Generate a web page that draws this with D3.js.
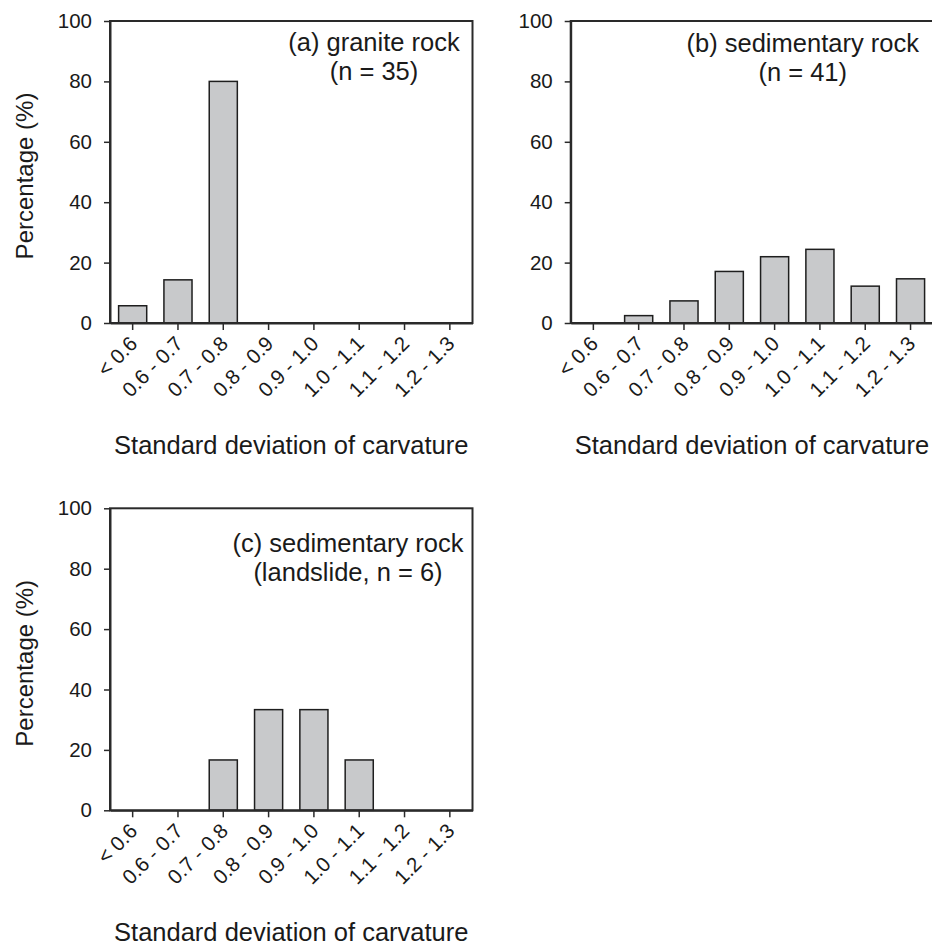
<!DOCTYPE html>
<html>
<head>
<meta charset="utf-8">
<script src="https://cdn.jsdelivr.net/npm/d3@7"></script>
<style>
  html, body { margin: 0; padding: 0; background: #fff; }
  svg { display: block; }
  text { font-family: "Liberation Sans", Arial, sans-serif; fill: #1a1a1a; }
</style>
</head>
<body>
<svg id="chart" width="932" height="945"></svg>
<script>
// ---- data ----
const categories = ["< 0.6", "0.6 - 0.7", "0.7 - 0.8", "0.8 - 0.9", "0.9 - 1.0", "1.0 - 1.1", "1.1 - 1.2", "1.2 - 1.3"];
const graniteValues = [5.71, 14.29, 80.0, 0, 0, 0, 0, 0];            // n = 35
const sedimentaryValues = [0, 2.44, 7.32, 17.07, 21.95, 24.39, 12.20, 14.63]; // n = 41
const landslideValues = [0, 0, 16.67, 33.33, 33.33, 16.67, 0, 0];   // n = 6
const yTicks = [0, 20, 40, 60, 80, 100];
const panelALabel = ["(a) granite rock", "(n = 35)"];
const panelBLabel = ["(b) sedimentary rock", "(n = 41)"];
const panelCLabel = ["(c) sedimentary rock", "(landslide, n = 6)"];
const xTitle = "Standard deviation of carvature";
const yTitle = "Percentage (%)";

// ---- layout ----
const W = 362.5, H = 302;
const svg = d3.select("#chart");

const panels = [
  { x: 110, y: 21, values: graniteValues, label: panelALabel, showY: true, labelX: 264, labelY: 30 },
  { x: 570.7, y: 21, values: sedimentaryValues, label: panelBLabel, showY: false, labelX: 232, labelY: 31 },
  { x: 110, y: 508.3, values: landslideValues, label: panelCLabel, showY: true, labelX: 238, labelY: 44 }
];

panels.forEach(p => {
  const g = svg.append("g").attr("transform", `translate(${p.x},${p.y})`);

  const x = d3.scaleBand().domain(categories).range([0, W]).paddingInner(0.38).paddingOuter(0.19);
  const y = d3.scaleLinear().domain([0, 100]).range([H, 0]);

  // bars
  g.selectAll("rect.bar")
    .data(categories.map((c, i) => ({ c, v: p.values[i] })).filter(d => d.v > 0))
    .join("rect")
    .attr("class", "bar")
    .attr("x", d => x(d.c))
    .attr("y", d => y(d.v))
    .attr("width", x.bandwidth())
    .attr("height", d => H - y(d.v))
    .attr("fill", "#c8c9cb")
    .attr("stroke", "#1e1e1e")
    .attr("stroke-width", 1.5);

  // frame
  g.append("rect")
    .attr("x", 0).attr("y", 0).attr("width", W).attr("height", H)
    .attr("fill", "none").attr("stroke", "#2a2a2a").attr("stroke-width", 2);

  // y axis
  const ya = g.append("g").call(d3.axisLeft(y).tickValues(yTicks).tickSize(6).tickSizeOuter(0).tickPadding(12));
  ya.attr("font-size", null).attr("font-family", null);
  ya.select(".domain").attr("stroke", "#2a2a2a").attr("stroke-width", 2);
  ya.selectAll(".tick line").attr("stroke", "#2a2a2a").attr("stroke-width", 1.5);
  ya.selectAll(".tick text").style("font-size", "20.5px").style("fill", "#1a1a1a");

  // x axis
  const xa = g.append("g").attr("transform", `translate(0,${H})`)
    .call(d3.axisBottom(x).tickSize(7).tickSizeOuter(0));
  xa.attr("font-size", null).attr("font-family", null);
  xa.select(".domain").attr("stroke", "#2a2a2a").attr("stroke-width", 2);
  xa.selectAll(".tick line").attr("stroke", "#2a2a2a").attr("stroke-width", 1.5);
  xa.selectAll(".tick text")
    .style("font-size", "20.5px").style("fill", "#1a1a1a")
    .attr("text-anchor", "end")
    .attr("x", 0).attr("y", 0).attr("dy", 0)
    .attr("transform", "translate(6,22) rotate(-45)");

  // x title
  g.append("text")
    .attr("x", W / 2).attr("y", H + 131)
    .attr("text-anchor", "middle").style("font-size", "25.5px")
    .text(xTitle);

  // y title
  if (p.showY) {
    g.append("text")
      .attr("transform", `translate(-77,${H / 2 + 4}) rotate(-90)`)
      .attr("text-anchor", "middle").style("font-size", "24px")
      .text(yTitle);
  }

  // annotation
  g.append("text")
    .attr("x", p.labelX).attr("y", p.labelY)
    .attr("text-anchor", "middle").style("font-size", "25.5px")
    .text(p.label[0]);
  g.append("text")
    .attr("x", p.labelX).attr("y", p.labelY + 29)
    .attr("text-anchor", "middle").style("font-size", "25.5px")
    .text(p.label[1]);
});
</script>
</body>
</html>
